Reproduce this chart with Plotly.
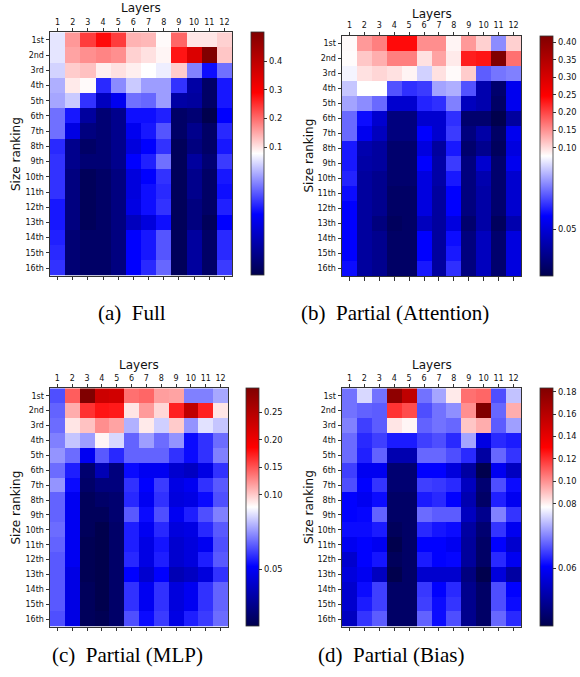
import numpy as np
import plotly.graph_objects as go

# ---------------- data ----------------
layers = [1, 2, 3, 4, 5, 6, 7, 8, 9, 10, 11, 12]
ranks = ["1st", "2nd", "3rd", "4th", "5th", "6th", "7th", "8th",
         "9th", "10th", "11th", "12th", "13th", "14th", "15th", "16th"]

full_vals = [
    [0.074, 0.162, 0.238, 0.280, 0.238, 0.140, 0.136, 0.081, 0.204, 0.098, 0.098, 0.115],
    [0.074, 0.153, 0.170, 0.179, 0.170, 0.115, 0.102, 0.085, 0.272, 0.348, 0.500, 0.124],
    [0.072, 0.119, 0.128, 0.090, 0.102, 0.090, 0.077, 0.075, 0.119, 0.063, 0.050, 0.061],
    [0.068, 0.094, 0.081, 0.053, 0.064, 0.071, 0.066, 0.066, 0.054, 0.034, 0.024, 0.051],
    [0.067, 0.071, 0.054, 0.038, 0.046, 0.061, 0.060, 0.066, 0.034, 0.033, 0.024, 0.051],
    [0.061, 0.051, 0.033, 0.026, 0.030, 0.050, 0.050, 0.052, 0.024, 0.026, 0.020, 0.0485],
    [0.061, 0.044, 0.028, 0.026, 0.030, 0.046, 0.051, 0.058, 0.024, 0.030, 0.024, 0.053],
    [0.053, 0.030, 0.024, 0.026, 0.030, 0.043, 0.0485, 0.054, 0.022, 0.028, 0.024, 0.051],
    [0.054, 0.030, 0.026, 0.026, 0.030, 0.0485, 0.052, 0.061, 0.022, 0.033, 0.026, 0.055],
    [0.054, 0.028, 0.022, 0.024, 0.028, 0.043, 0.0485, 0.054, 0.022, 0.030, 0.024, 0.051],
    [0.054, 0.028, 0.022, 0.024, 0.028, 0.043, 0.050, 0.053, 0.022, 0.030, 0.024, 0.050],
    [0.051, 0.028, 0.022, 0.024, 0.028, 0.044, 0.050, 0.054, 0.022, 0.028, 0.024, 0.052],
    [0.051, 0.028, 0.022, 0.024, 0.028, 0.038, 0.043, 0.050, 0.022, 0.028, 0.022, 0.0485],
    [0.052, 0.026, 0.024, 0.024, 0.028, 0.0485, 0.051, 0.058, 0.022, 0.033, 0.024, 0.053],
    [0.053, 0.026, 0.024, 0.024, 0.028, 0.0485, 0.051, 0.058, 0.022, 0.033, 0.024, 0.053],
    [0.054, 0.026, 0.024, 0.024, 0.028, 0.0485, 0.053, 0.060, 0.022, 0.033, 0.024, 0.055],
]

attn_vals = [
    [0.080, 0.145, 0.162, 0.240, 0.240, 0.152, 0.152, 0.084, 0.145, 0.108, 0.067, 0.108],
    [0.079, 0.114, 0.131, 0.162, 0.162, 0.097, 0.138, 0.091, 0.227, 0.233, 0.417, 0.172],
    [0.076, 0.097, 0.104, 0.097, 0.084, 0.073, 0.097, 0.080, 0.111, 0.063, 0.065, 0.066],
    [0.072, 0.077, 0.077, 0.062, 0.059, 0.060, 0.069, 0.070, 0.062, 0.045, 0.037, 0.053],
    [0.069, 0.067, 0.064, 0.049, 0.049, 0.058, 0.059, 0.066, 0.047, 0.045, 0.036, 0.053],
    [0.064, 0.056, 0.049, 0.039, 0.039, 0.049, 0.049, 0.059, 0.037, 0.037, 0.033, 0.043],
    [0.064, 0.053, 0.047, 0.039, 0.039, 0.055, 0.049, 0.060, 0.039, 0.044, 0.036, 0.053],
    [0.057, 0.045, 0.043, 0.037, 0.037, 0.051, 0.043, 0.057, 0.037, 0.041, 0.035, 0.051],
    [0.057, 0.044, 0.043, 0.037, 0.037, 0.055, 0.044, 0.060, 0.039, 0.049, 0.037, 0.053],
    [0.058, 0.043, 0.041, 0.037, 0.037, 0.051, 0.044, 0.057, 0.039, 0.045, 0.037, 0.049],
    [0.056, 0.043, 0.041, 0.036, 0.036, 0.051, 0.043, 0.055, 0.039, 0.044, 0.037, 0.049],
    [0.055, 0.043, 0.041, 0.036, 0.036, 0.051, 0.043, 0.055, 0.039, 0.044, 0.037, 0.049],
    [0.055, 0.043, 0.039, 0.035, 0.036, 0.047, 0.043, 0.051, 0.037, 0.044, 0.035, 0.045],
    [0.055, 0.043, 0.041, 0.036, 0.036, 0.055, 0.043, 0.056, 0.039, 0.047, 0.037, 0.051],
    [0.055, 0.043, 0.041, 0.036, 0.036, 0.055, 0.043, 0.057, 0.039, 0.047, 0.037, 0.051],
    [0.056, 0.043, 0.041, 0.036, 0.036, 0.057, 0.043, 0.059, 0.039, 0.047, 0.037, 0.051],
]

mlp_vals = [
    [0.059, 0.146, 0.294, 0.229, 0.225, 0.138, 0.142, 0.118, 0.116, 0.064, 0.064, 0.068],
    [0.061, 0.112, 0.164, 0.177, 0.175, 0.088, 0.120, 0.094, 0.172, 0.240, 0.172, 0.088],
    [0.062, 0.088, 0.103, 0.125, 0.116, 0.069, 0.086, 0.072, 0.099, 0.066, 0.074, 0.071],
    [0.064, 0.071, 0.067, 0.081, 0.073, 0.061, 0.067, 0.062, 0.066, 0.052, 0.056, 0.062],
    [0.066, 0.062, 0.049, 0.060, 0.055, 0.061, 0.061, 0.061, 0.056, 0.052, 0.056, 0.064],
    [0.062, 0.054, 0.030, 0.040, 0.032, 0.052, 0.049, 0.049, 0.044, 0.042, 0.047, 0.056],
    [0.066, 0.052, 0.029, 0.032, 0.032, 0.056, 0.051, 0.057, 0.047, 0.049, 0.056, 0.060],
    [0.061, 0.049, 0.027, 0.029, 0.030, 0.055, 0.049, 0.056, 0.046, 0.047, 0.052, 0.059],
    [0.061, 0.049, 0.027, 0.027, 0.030, 0.060, 0.052, 0.059, 0.049, 0.054, 0.059, 0.064],
    [0.062, 0.049, 0.027, 0.025, 0.029, 0.054, 0.049, 0.055, 0.046, 0.047, 0.055, 0.060],
    [0.061, 0.049, 0.026, 0.025, 0.029, 0.054, 0.047, 0.053, 0.044, 0.046, 0.049, 0.059],
    [0.060, 0.049, 0.026, 0.025, 0.029, 0.055, 0.047, 0.054, 0.044, 0.046, 0.054, 0.060],
    [0.060, 0.047, 0.026, 0.025, 0.029, 0.051, 0.044, 0.051, 0.040, 0.042, 0.046, 0.056],
    [0.060, 0.047, 0.027, 0.025, 0.029, 0.056, 0.049, 0.056, 0.046, 0.049, 0.056, 0.061],
    [0.060, 0.047, 0.027, 0.025, 0.029, 0.056, 0.049, 0.056, 0.046, 0.049, 0.056, 0.061],
    [0.059, 0.047, 0.027, 0.026, 0.029, 0.059, 0.052, 0.057, 0.047, 0.054, 0.057, 0.062],
]

bias_vals = [
    [0.0678, 0.0744, 0.0678, 0.1766, 0.1565, 0.0678, 0.0711, 0.0812, 0.1067, 0.1088, 0.0655, 0.0730],
    [0.0678, 0.0668, 0.0664, 0.1194, 0.1141, 0.0655, 0.0678, 0.0697, 0.1003, 0.1830, 0.0671, 0.0940],
    [0.0688, 0.0645, 0.0664, 0.0823, 0.0791, 0.0668, 0.0678, 0.0671, 0.0887, 0.0940, 0.0664, 0.0707],
    [0.0674, 0.0631, 0.0645, 0.0622, 0.0622, 0.0645, 0.0655, 0.0631, 0.0711, 0.0579, 0.0631, 0.0622],
    [0.0674, 0.0625, 0.0668, 0.0532, 0.0532, 0.0671, 0.0671, 0.0655, 0.0631, 0.0519, 0.0671, 0.0638],
    [0.0645, 0.0592, 0.0592, 0.0473, 0.0473, 0.0605, 0.0605, 0.0572, 0.0519, 0.0440, 0.0592, 0.0546],
    [0.0655, 0.0605, 0.0638, 0.0473, 0.0473, 0.0645, 0.0641, 0.0631, 0.0546, 0.0473, 0.0655, 0.0612],
    [0.0605, 0.0592, 0.0612, 0.0463, 0.0463, 0.0622, 0.0631, 0.0605, 0.0532, 0.0463, 0.0625, 0.0592],
    [0.0605, 0.0608, 0.0668, 0.0463, 0.0463, 0.0674, 0.0664, 0.0664, 0.0546, 0.0499, 0.0688, 0.0638],
    [0.0612, 0.0612, 0.0622, 0.0453, 0.0463, 0.0631, 0.0618, 0.0612, 0.0519, 0.0473, 0.0638, 0.0592],
    [0.0592, 0.0605, 0.0592, 0.0440, 0.0463, 0.0605, 0.0605, 0.0592, 0.0513, 0.0463, 0.0605, 0.0559],
    [0.0559, 0.0605, 0.0618, 0.0453, 0.0463, 0.0622, 0.0605, 0.0608, 0.0513, 0.0463, 0.0631, 0.0592],
    [0.0572, 0.0592, 0.0546, 0.0440, 0.0463, 0.0559, 0.0559, 0.0559, 0.0486, 0.0440, 0.0572, 0.0519],
    [0.0559, 0.0612, 0.0645, 0.0463, 0.0463, 0.0641, 0.0605, 0.0631, 0.0499, 0.0463, 0.0655, 0.0605],
    [0.0559, 0.0622, 0.0645, 0.0463, 0.0463, 0.0645, 0.0612, 0.0638, 0.0499, 0.0463, 0.0655, 0.0612],
    [0.0546, 0.0638, 0.0664, 0.0463, 0.0463, 0.0668, 0.0612, 0.0655, 0.0499, 0.0463, 0.0671, 0.0631],
]

full_ticks = [0.1, 0.2, 0.3, 0.4]
attn_ticks = [0.05, 0.10, 0.15, 0.20, 0.25, 0.30, 0.35, 0.40]
mlp_ticks = [0.05, 0.10, 0.15, 0.20, 0.25]
bias_ticks = [0.06, 0.08, 0.10, 0.12, 0.14, 0.16, 0.18]

captions = ["(a)\u2002Full", "(b)\u2002Partial (Attention)",
            "(c)\u2002Partial (MLP)", "(d)\u2002Partial (Bias)"]

V_CENTER = 1 / 13

# ---------------- layout geometry (pixels) ----------------
W, H = 580, 677
panels = [
    dict(vals=full_vals, ticks=full_ticks, fmt="{:.1f}", hm=(50, 232, 32.3, 275.7), cb=(251, 12.5),
         layers_y=8.5, rank_x=16, cap=(132, 313)),
    dict(vals=attn_vals, ticks=attn_ticks, fmt="{:.2f}", hm=(342, 521, 36, 276), cb=(539.5, 13),
         layers_y=14.3, rank_x=308.5, cap=(395, 313)),
    dict(vals=mlp_vals, ticks=mlp_ticks, fmt="{:.2f}", hm=(50, 228, 388.3, 626.7), cb=(246, 12.5),
         layers_y=365, rank_x=15, cap=(127, 655)),
    dict(vals=bias_vals, ticks=bias_ticks, fmt="{:.2f}", hm=(342, 521, 388.3, 626.7), cb=(539.5, 13),
         layers_y=365, rank_x=308.5, cap=(391, 655)),
]

seismic = [
    [0.0, "rgb(0,0,77)"],
    [0.25, "rgb(0,0,255)"],
    [0.5, "rgb(255,255,255)"],
    [0.75, "rgb(255,0,0)"],
    [1.0, "rgb(128,0,0)"],
]


def two_slope(z, vmin, vcenter, vmax):
    return np.interp(z, [vmin, vcenter, vmax], [0.0, 0.5, 1.0])


fig = go.Figure()
annotations = []
AX_COLOR = "#333333"
TXT = "#111111"
SANS = "DejaVu Sans"

layout_axes = {}
for i, p in enumerate(panels, start=1):
    z = np.array(p["vals"], dtype=float)
    vmin, vmax = z.min(), z.max()
    zn = two_slope(z, vmin, V_CENTER, vmax)
    x0, x1, yt, yb = p["hm"]
    cbx, cbt = p["cb"]
    tickvals = [float(two_slope(t, vmin, V_CENTER, vmax)) for t in p["ticks"]]
    ticktext = [p["fmt"].format(t) for t in p["ticks"]]
    xs = "x" if i == 1 else f"x{i}"
    ys = "y" if i == 1 else f"y{i}"
    fig.add_trace(go.Heatmap(
        z=zn, x=layers, y=ranks, customdata=z,
        hovertemplate="Layer %{x}, %{y}: %{customdata:.3f}<extra></extra>",
        colorscale=seismic, zmin=0, zmax=1,
        xaxis=xs, yaxis=ys,
        colorbar=dict(
            x=cbx / W, xanchor="left", y=1 - yt / H, yanchor="top",
            len=(yb - yt), lenmode="pixels",
            thickness=cbt, thicknessmode="pixels",
            xpad=0, ypad=0, outlinewidth=0.8, outlinecolor=AX_COLOR,
            tickvals=tickvals, ticktext=ticktext,
            ticks="outside", ticklen=3.5, tickwidth=0.8, tickcolor=AX_COLOR,
            tickfont=dict(family=SANS, size=8.3, color=TXT),
        ),
    ))
    xk = "xaxis" if i == 1 else f"xaxis{i}"
    yk = "yaxis" if i == 1 else f"yaxis{i}"
    layout_axes[xk] = dict(
        domain=[x0 / W, x1 / W], anchor=ys, side="top",
        range=[0.5, 12.5], tickmode="array", tickvals=layers,
        ticktext=[str(v) for v in layers],
        ticks="outside", ticklen=3.5, tickwidth=0.8, tickcolor=AX_COLOR,
        showline=True, linecolor=AX_COLOR, linewidth=1, mirror="ticks",
        showgrid=False, zeroline=False,
        tickfont=dict(family=SANS, size=8, color=TXT),
    )
    layout_axes[yk] = dict(
        domain=[1 - yb / H, 1 - yt / H], anchor=xs,
        type="category", range=[15.5, -0.5],
        ticks="outside", ticklen=3.5, tickwidth=0.8, tickcolor=AX_COLOR,
        showline=True, linecolor=AX_COLOR, linewidth=1, mirror=True,
        showgrid=False, zeroline=False,
        tickfont=dict(family=SANS, size=8, color=TXT),
    )
    annotations.append(dict(
        text="Layers", x=(x0 + x1) / 2 / W, y=1 - p["layers_y"] / H,
        xref="paper", yref="paper", xanchor="center", yanchor="middle",
        showarrow=False, font=dict(family=SANS, size=12, color=TXT)))
    annotations.append(dict(
        text="Size ranking", x=p["rank_x"] / W, y=1 - (yt + yb) / 2 / H,
        xref="paper", yref="paper", xanchor="center", yanchor="middle",
        textangle=-90, showarrow=False, font=dict(family=SANS, size=12, color=TXT)))
    cx, cy = p["cap"]
    annotations.append(dict(
        text=captions[i - 1], x=cx / W, y=1 - cy / H,
        xref="paper", yref="paper", xanchor="center", yanchor="middle",
        showarrow=False, font=dict(family="Liberation Serif", size=21, color="#000000")))

fig.update_layout(
    width=W, height=H,
    margin=dict(l=0, r=0, t=0, b=0),
    paper_bgcolor="white", plot_bgcolor="white",
    showlegend=False,
    annotations=annotations,
    **layout_axes,
)

fig.write_html(
    "out.html",
    config={"displayModeBar": False},
    post_script="document.body.style.margin='0';document.body.style.overflow='hidden';",
)
